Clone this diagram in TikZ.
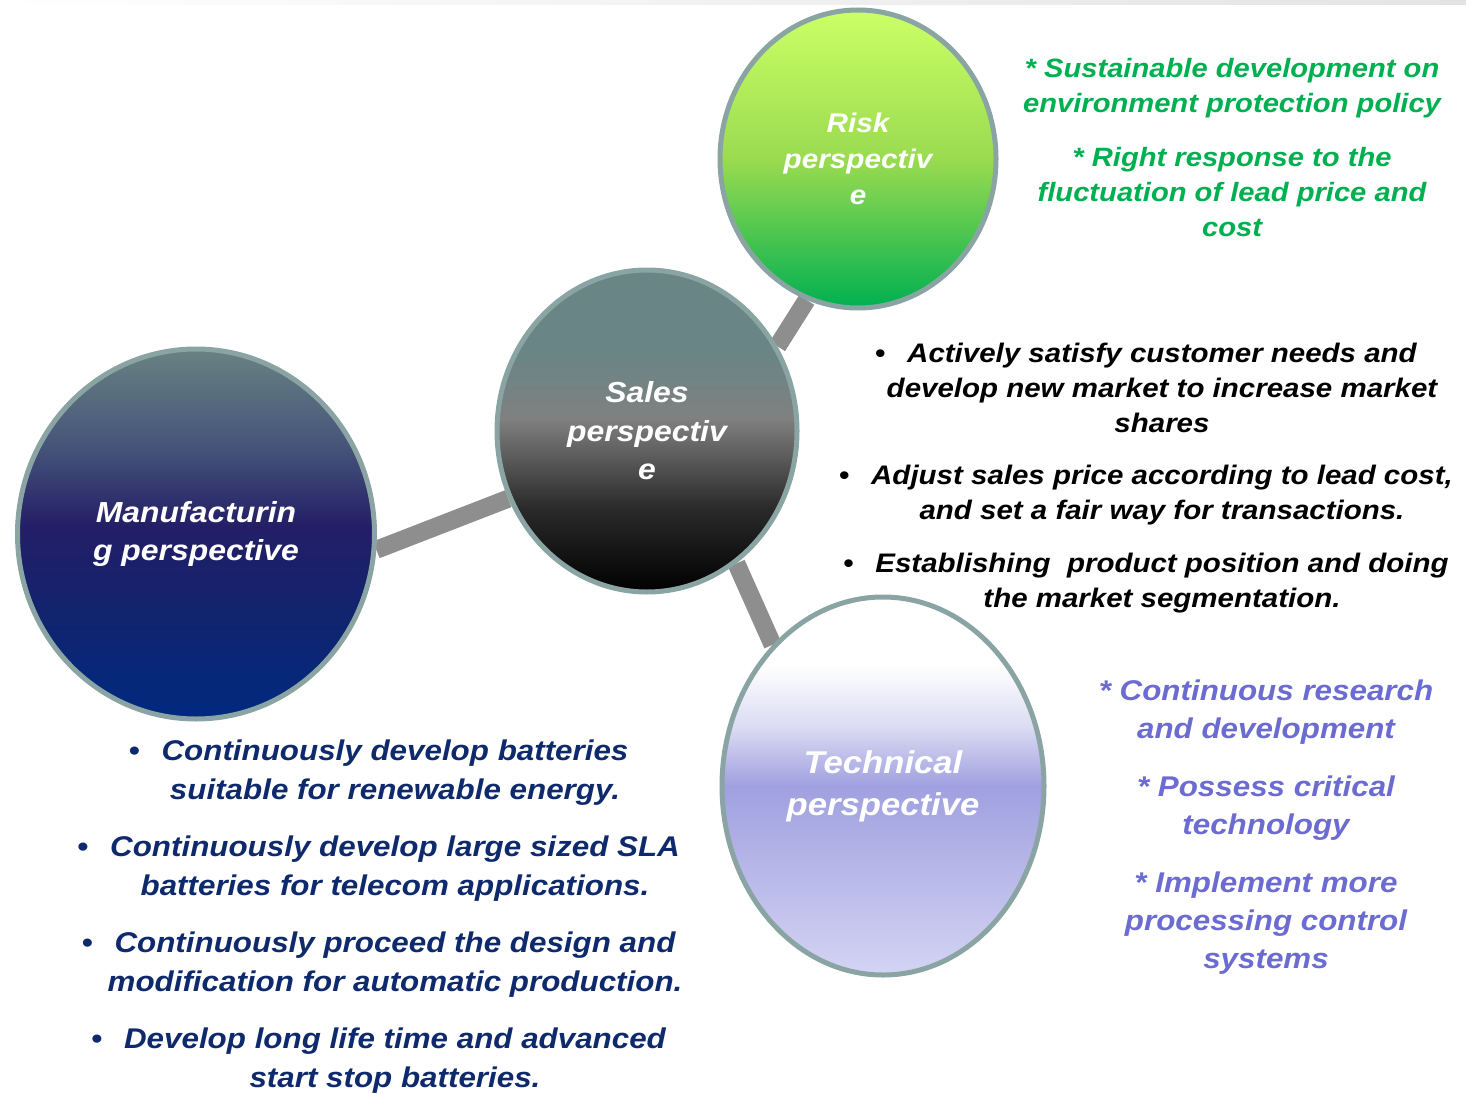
\documentclass[tikz,border=0pt]{standalone}
\usepackage{fontspec}
\setmainfont[FakeStretch=1.1]{Liberation Sans}
\usetikzlibrary{shapes.geometric,backgrounds}
\definecolor{rimgray}{HTML}{8AA4A4}
\definecolor{linkgray}{HTML}{8E8E8E}
\definecolor{greentext}{HTML}{00B050}
\definecolor{navytext}{HTML}{0E2A6C}
\definecolor{purpletext}{HTML}{6B6BD2}
\definecolor{risktop}{HTML}{CCFF66}
\definecolor{riskmid}{HTML}{9ADB50}
\definecolor{riskbot}{HTML}{00B050}
\definecolor{salestop}{HTML}{6A8585}
\definecolor{salesmid}{HTML}{808080}
\definecolor{salesdark}{HTML}{2A2A2A}
\definecolor{manutop}{HTML}{688282}
\definecolor{manuup}{HTML}{46557A}
\definecolor{manumid}{HTML}{231E66}
\definecolor{manulow}{HTML}{10246F}
\definecolor{manubot}{HTML}{002A80}
\definecolor{techmid}{HTML}{A0A0E0}
\definecolor{techlight}{HTML}{DCDCF4}
\definecolor{techbot}{HTML}{D4D4F4}
\pgfdeclareverticalshading{riskshade}{100bp}{color(0bp)=(riskbot); color(25bp)=(riskbot); color(50bp)=(riskmid); color(75bp)=(risktop); color(100bp)=(risktop)}
\pgfdeclareverticalshading{salesshade}{100bp}{color(0bp)=(black); color(25bp)=(black); color(38bp)=(salesdark); color(52bp)=(salesmid); color(62bp)=(salestop); color(100bp)=(salestop)}
\pgfdeclareverticalshading{manushade}{100bp}{color(0bp)=(manubot); color(25bp)=(manubot); color(38bp)=(manulow); color(51bp)=(manumid); color(62bp)=(manuup); color(75bp)=(manutop); color(100bp)=(manutop)}
\pgfdeclareverticalshading{techshade}{100bp}{color(0bp)=(techbot); color(25bp)=(techbot); color(50bp)=(techmid); color(58bp)=(techlight); color(66bp)=(white); color(100bp)=(white)}
\newcommand{\itembul}{\llap{\textbullet\hspace{22pt}}}

\begin{document}
\begin{tikzpicture}[x=1pt,y=-1pt,
  persp/.style={ellipse,draw=rimgray,line width=5pt,inner sep=0pt,text=white,align=center},
  link/.style={draw=linkgray,line width=18pt},
  greentxt/.style={text=greentext,align=center,font=\fontsize{26.5}{35}\selectfont\bfseries\itshape},
  blacktxt/.style={text=black,align=center,font=\fontsize{26.8}{35}\selectfont\bfseries\itshape},
  purpletxt/.style={text=purpletext,align=center,font=\fontsize{28.5}{38}\selectfont\bfseries\itshape},
  navytxt/.style={text=navytext,align=center,font=\fontsize{28.5}{39}\selectfont\bfseries\itshape}]
\useasboundingbox (0,0) rectangle (1466,1094);
\shade[left color=white,right color=black!11] (0,0) rectangle (1466,5);
% the four perspectives
\node[persp,shading=riskshade,minimum width=276pt,minimum height=298pt,font=\fontsize{27}{36}\selectfont\bfseries\itshape] (risk) at (858,159) {Risk\\perspectiv\\e};
\node[persp,shading=salesshade,minimum width=300pt,minimum height=322pt,font=\fontsize{29}{38.5}\selectfont\bfseries\itshape] (sales) at (647,431) {Sales\\perspectiv\\e};
\node[persp,shading=manushade,minimum width=357pt,minimum height=370pt,font=\fontsize{29}{38}\selectfont\bfseries\itshape] (manu) at (196,534) {Manufacturin\\g perspective};
\node[persp,shading=techshade,minimum width=322pt,minimum height=378pt,font=\fontsize{31.5}{42}\selectfont\bfseries\itshape] (tech) at (883,786) {Technical\\perspective};
\begin{scope}[on background layer]
\draw[link] (manu.-5) -- (sales.206);
\draw[link] (sales.33) -- (risk.250);
\draw[link] (sales.-56) -- (tech.128);
\end{scope}
% risk
\node[greentxt] (risk1) at (1232,88) {* Sustainable development on\\environment protection policy};
\node[greentxt] (risk2) at (1232,192) {* Right response to the\\fluctuation of lead price and\\cost};
% sales
\node[blacktxt] (sales1) at (1162,388) {\itembul Actively satisfy customer needs and\\develop new market to increase market\\shares};
\node[blacktxt] (sales2) at (1162,495) {\itembul Adjust sales price according to lead cost,\\and set a fair way for transactions.};
\node[blacktxt] (sales3) at (1162,583) {\itembul Establishing~ product position and doing\\the market segmentation.};
% technical
\node[purpletxt] (tech1) at (1266,712) {* Continuous research\\and development};
\node[purpletxt] (tech2) at (1266,808) {* Possess critical\\technology};
\node[purpletxt] (tech3) at (1266,923) {* Implement more\\processing control\\systems};
% manufacturing
\node[navytxt] (manu1) at (395,773) {\itembul Continuously develop batteries\\suitable for renewable energy.};
\node[navytxt] (manu2) at (395,869) {\itembul Continuously develop large sized SLA\\batteries for telecom applications.};
\node[navytxt] (manu3) at (395,965) {\itembul Continuously proceed the design and\\modification for automatic production.};
\node[navytxt] (manu4) at (395,1061) {\itembul Develop long life time and advanced\\start stop batteries.};
\end{tikzpicture}
\end{document}
